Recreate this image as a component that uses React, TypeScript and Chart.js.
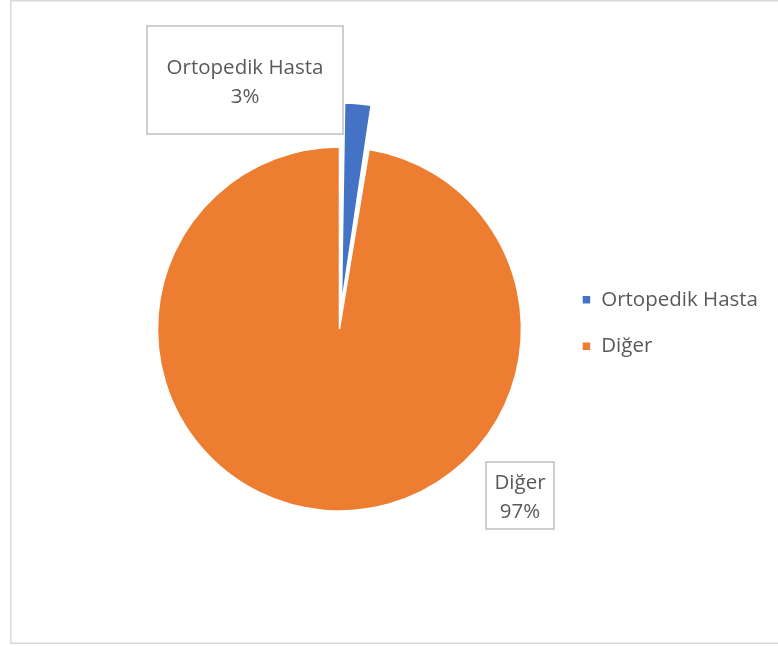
import React, { useEffect, useRef } from "react";
import { Chart, registerables } from "chart.js";

Chart.register(...registerables);

// ---- data ----
const categories: string[] = ["Ortopedik Hasta", "Diğer"];
const values: number[] = [2.6, 97.4];
const sliceColors: string[] = ["#4472C4", "#ED7D31"];
const sliceOffsets: number[] = [96, 0];

const TEXT_COLOR = "#595959";
const FONT_FAMILY = "'Open Sans', 'Noto Sans', sans-serif";
const FONT_SIZE = 20.5;

// frame around the chart
const framePlugin = {
  id: "frame",
  beforeDraw(chart: any) {
    const ctx = chart.ctx;
    ctx.save();
    ctx.fillStyle = "#ffffff";
    ctx.fillRect(0, 0, chart.width, chart.height);
    ctx.strokeStyle = "#d9d9d9";
    ctx.lineWidth = 1.5;
    ctx.strokeRect(10.75, 0.75, 800, 642.5);
    ctx.restore();
  },
};

// boxed data labels (category + percent)
const labelBoxPlugin = {
  id: "labelBoxes",
  afterDatasetsDraw(chart: any) {
    const meta = chart.getDatasetMeta(0);
    const ref = meta.data[1] as any;
    const cx = ref.x;
    const cy = ref.y;
    const R = ref.outerRadius;
    const total = values.reduce((a, b) => a + b, 0);
    const placements = [
      { dx: -0.519, dy: -1.368, w: 196, h: 108 },
      { dx: 0.992, dy: 0.915, w: 68, h: 67 },
    ];
    const ctx = chart.ctx;
    ctx.save();
    ctx.font = `${FONT_SIZE}px ${FONT_FAMILY}`;
    ctx.textAlign = "center";
    ctx.textBaseline = "alphabetic";
    categories.forEach((cat, i) => {
      const p = placements[i];
      const bx = cx + p.dx * R;
      const by = cy + p.dy * R;
      ctx.fillStyle = "#ffffff";
      ctx.fillRect(bx - p.w / 2, by - p.h / 2, p.w, p.h);
      ctx.strokeStyle = "#bfbfbf";
      ctx.lineWidth = 1.5;
      ctx.strokeRect(bx - p.w / 2, by - p.h / 2, p.w, p.h);
      const pct = Math.round((values[i] / total) * 100) + "%";
      ctx.fillStyle = TEXT_COLOR;
      ctx.fillText(cat, bx, by + 1 - 14.5 + 7.2);
      ctx.fillText(pct, bx, by + 1 + 14.5 + 7.2);
    });
    ctx.restore();
  },
};

export default function App() {
  const canvasRef = useRef<HTMLCanvasElement | null>(null);

  useEffect(() => {
    if (!canvasRef.current) return;
    const chart = new Chart(canvasRef.current, {
      type: "pie",
      data: {
        labels: categories,
        datasets: [
          {
            data: values,
            backgroundColor: sliceColors,
            borderColor: "#ffffff",
            borderWidth: 1.5,
            offset: sliceOffsets,
            radius: 182,
            clip: false,
          } as any,
        ],
      },
      options: {
        animation: false,
        responsive: false,
        radius: 182,
        layout: { padding: { left: 123, right: 10, top: 0, bottom: 0 } },
        plugins: {
          title: {
            display: true,
            text: "",
            fullSize: false,
            font: { size: 10, lineHeight: 1 },
            padding: { top: 2, bottom: 0 },
          },
          legend: {
            position: "right",
            align: "center",
            labels: {
              boxWidth: 9,
              boxHeight: 9,
              padding: 26,
              color: TEXT_COLOR,
              font: { family: FONT_FAMILY, size: FONT_SIZE },
            },
          },
          tooltip: { enabled: false },
        },
      } as any,
      plugins: [framePlugin, labelBoxPlugin],
    });
    return () => chart.destroy();
  }, []);

  return (
    <div style={{ position: "absolute", left: 0, top: 0, width: 778, height: 646 }}>
      <canvas ref={canvasRef} width={778} height={646} style={{ display: "block" }} />
    </div>
  );
}
